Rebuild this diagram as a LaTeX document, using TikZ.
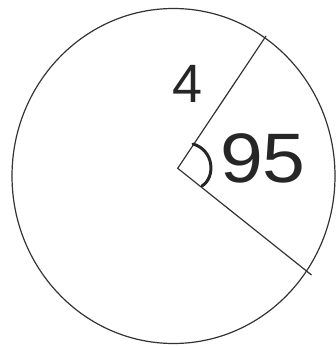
\documentclass[tikz,border=0pt]{standalone}
\usepackage{fontspec}
\setmainfont{Liberation Sans}
\begin{document}
\begin{tikzpicture}[x=1pt,y=-1pt,
  edge/.style={draw=black!80,line width=1.2pt},
  hand/.style={text=black!85,inner sep=0pt,anchor=center}]
\useasboundingbox (0,0) rectangle (335,347);
\coordinate (O) at (173.5,176);
\coordinate (C) at (177.7,168.3);
\coordinate (A) at (266,36);
\coordinate (B) at (311.5,275);
\draw[edge] (O) ellipse [x radius=161.5, y radius=167.5];
\draw[edge] (A) -- (C) -- (B);
\draw[line width=3pt,black!85,line cap=round] (193,144) .. controls (214,150) and (216,177) .. (202,186);
\node[hand,font=\fontsize{54}{54}\selectfont] (four) at (188,84) {4};
\node[hand,font=\fontsize{70}{70}\selectfont,xscale=1.1] (ang) at (263,158) {95};
\end{tikzpicture}
\end{document}
